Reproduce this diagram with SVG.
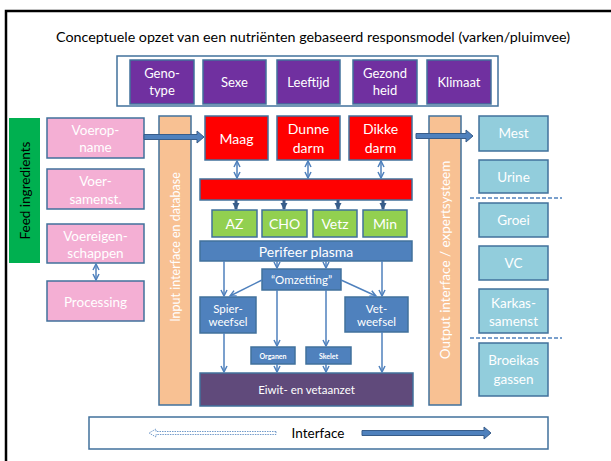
<svg xmlns="http://www.w3.org/2000/svg" width="611" height="461" viewBox="0 0 611 461">
<defs>
<style>
text{font-family:Lato,"Liberation Sans",sans-serif;text-anchor:middle;}
.w{fill:#ffffff;}
.k{fill:#000000;}
.bd{stroke:#41719C;stroke-width:1.5;}
.pink{fill:#F4AFD4;}
.purple{fill:#7030A0;}
.red{fill:#FF0000;}
.green{fill:#92D050;}
.blue{fill:#4F81BD;}
.lblue{fill:#92CDDC;}
.orange{fill:#F8C193;}
.ln{stroke:#4F81BD;stroke-width:1.5;fill:none;}
.thick{stroke:#385D8A;stroke-width:3;fill:none;}
.dash{stroke:#4F81BD;stroke-width:1.3;stroke-dasharray:4 2;fill:none;}
</style>
<marker id="ah" markerWidth="8" markerHeight="8" refX="7" refY="4" orient="auto" markerUnits="userSpaceOnUse">
<path d="M1,1 L7,4 L1,7" fill="none" stroke="#4F81BD" stroke-width="1.5"/>
</marker>
<marker id="as" markerWidth="8" markerHeight="8" refX="7" refY="4" orient="auto-start-reverse" markerUnits="userSpaceOnUse">
<path d="M1,1 L7,4 L1,7" fill="none" stroke="#4F81BD" stroke-width="1.5"/>
</marker>
<marker id="at" markerWidth="8" markerHeight="8" refX="6" refY="4" orient="auto" markerUnits="userSpaceOnUse">
<path d="M0,0.5 L7,4 L0,7.5 Z" fill="#385D8A"/>
</marker>
</defs>
<rect x="0" y="0" width="611" height="461" fill="#ffffff"/>
<path d="M6,461 V11 H611" fill="none" stroke="#000000" stroke-width="2.5"/>
<text x="313" y="42" font-size="13.5" class="k" textLength="514" lengthAdjust="spacingAndGlyphs">Conceptuele opzet van een nutriënten gebaseerd responsmodel (varken/pluimvee)</text>

<g id="factors">
<rect x="117" y="56" width="381" height="50" fill="#ffffff" class="bd"/>
</g>
<g id="genotype"><rect x="130" y="60" width="64" height="44" class="purple bd"/><text x="162" y="78" font-size="13" class="w">Geno-</text><text x="162" y="95" font-size="13" class="w">type</text></g>
<g id="sexe"><rect x="203" y="60" width="63" height="44" class="purple bd"/><text x="234.5" y="86.5" font-size="13" class="w">Sexe</text></g>
<g id="leeftijd"><rect x="277" y="60" width="63" height="44" class="purple bd"/><text x="308.5" y="86.5" font-size="13" class="w">Leeftijd</text></g>
<g id="gezondheid"><rect x="353" y="60" width="64" height="44" class="purple bd"/><text x="385" y="78" font-size="13" class="w">Gezond</text><text x="385" y="95" font-size="13" class="w">heid</text></g>
<g id="klimaat"><rect x="427" y="60" width="64" height="44" class="purple bd"/><text x="459" y="86.5" font-size="13" class="w">Klimaat</text></g>

<g id="feed"><rect x="9" y="118" width="31" height="145" fill="#00B050"/><text transform="translate(29.5,190.5) rotate(-90)" font-size="13.5" class="k">Feed ingredients</text></g>

<g id="voeropname"><rect x="47" y="118" width="97" height="40" class="pink bd"/><text x="95.5" y="134.5" font-size="13.5" class="w">Voerop-</text><text x="95.5" y="151.5" font-size="13.5" class="w">name</text></g>
<g id="voersamenst"><rect x="47" y="169" width="97" height="40" class="pink bd"/><text x="95.5" y="185.5" font-size="13.5" class="w">Voer-</text><text x="95.5" y="203.5" font-size="13.5" class="w">samenst.</text></g>
<g id="voereigenschappen"><rect x="47" y="224" width="97" height="39" class="pink bd"/><text x="95.5" y="240.5" font-size="13.5" class="w">Voereigen-</text><text x="95.5" y="257.5" font-size="13.5" class="w">schappen</text></g>
<g id="processing"><rect x="47" y="281" width="97" height="40" class="pink bd"/><text x="95.5" y="306.5" font-size="13.5" class="w">Processing</text></g>

<g id="input"><rect x="159" y="116" width="32" height="289" class="orange bd"/><text transform="translate(179.5,247) rotate(-90)" font-size="12.5" class="w">Input interface en database</text></g>
<g id="output"><rect x="429" y="116" width="32" height="289" class="orange bd"/><text transform="translate(449.5,260) rotate(-90)" font-size="13.5" class="w">Output interface / expertsysteem</text></g>

<g id="maag"><rect x="205" y="116" width="63" height="44" class="red bd"/><text x="236.5" y="143.5" font-size="14" class="w">Maag</text></g>
<g id="dunnedarm"><rect x="277" y="116" width="63" height="44" class="red bd"/><text x="308.5" y="134" font-size="14" class="w">Dunne</text><text x="308.5" y="152.5" font-size="14" class="w">darm</text></g>
<g id="dikkedarm"><rect x="349" y="116" width="63" height="44" class="red bd"/><text x="380.5" y="134" font-size="14" class="w">Dikke</text><text x="380.5" y="152.5" font-size="14" class="w">darm</text></g>
<g id="redbar"><rect x="200" y="179" width="212" height="21" class="red bd"/></g>

<g id="az"><rect x="212" y="210" width="45" height="27" class="green bd"/><text x="234.5" y="229" font-size="14" class="w">AZ</text></g>
<g id="cho"><rect x="262" y="210" width="45" height="27" class="green bd"/><text x="284.5" y="229" font-size="14" class="w">CHO</text></g>
<g id="vetz"><rect x="313" y="210" width="44" height="27" class="green bd"/><text x="335" y="229" font-size="14" class="w">Vetz</text></g>
<g id="min"><rect x="363" y="210" width="44" height="27" class="green bd"/><text x="385" y="229" font-size="14" class="w">Min</text></g>

<g id="plasma"><rect x="200" y="241" width="212" height="20" class="blue bd"/><text x="306" y="256.5" font-size="14" class="w">Perifeer plasma</text></g>
<g id="omzetting"><rect x="262" y="269" width="79" height="21" class="blue bd"/><text x="301.5" y="284" font-size="11.5" class="w">“Omzetting”</text></g>
<g id="spierweefsel"><rect x="200" y="297" width="56" height="36" class="blue bd"/><text x="228" y="312.5" font-size="11.5" class="w">Spier-</text><text x="228" y="326" font-size="11.5" class="w">weefsel</text></g>
<g id="vetweefsel"><rect x="345" y="297" width="63" height="35" class="blue bd"/><text x="376.5" y="312.5" font-size="11.5" class="w">Vet-</text><text x="376.5" y="326" font-size="11.5" class="w">weefsel</text></g>
<g id="organen"><rect x="251" y="347" width="44" height="17" class="blue bd"/><text x="273" y="359" font-size="7" font-weight="bold" class="w">Organen</text></g>
<g id="skelet"><rect x="306" y="347" width="45" height="17" class="blue bd"/><text x="328.5" y="359" font-size="7" font-weight="bold" class="w">Skelet</text></g>
<g id="eiwit"><rect x="200" y="373" width="213" height="33" fill="#604A7B" class="bd"/><text x="306.5" y="394" font-size="11.5" class="w">Eiwit- en vetaanzet</text></g>

<g id="mest"><rect x="479" y="116" width="69" height="35" class="lblue bd"/><text x="513.5" y="138" font-size="13.5" class="w">Mest</text></g>
<g id="urine"><rect x="479" y="160" width="69" height="33" class="lblue bd"/><text x="513.5" y="181.5" font-size="13.5" class="w">Urine</text></g>
<g id="groei"><rect x="479" y="203" width="69" height="34" class="lblue bd"/><text x="513.5" y="224.5" font-size="13.5" class="w">Groei</text></g>
<g id="vc"><rect x="479" y="246" width="69" height="34" class="lblue bd"/><text x="513.5" y="267.5" font-size="13.5" class="w">VC</text></g>
<g id="karkas"><rect x="479" y="289" width="69" height="44" class="lblue bd"/><text x="513.5" y="307.5" font-size="13.5" class="w">Karkas-</text><text x="513.5" y="325.5" font-size="13.5" class="w">samenst</text></g>
<g id="broeikas"><rect x="479" y="343" width="69" height="53" class="lblue bd"/><text x="513.5" y="364.5" font-size="13.5" class="w">Broeikas</text><text x="513.5" y="383.5" font-size="13.5" class="w">gassen</text></g>

<g id="interface"><rect x="89" y="417" width="459" height="32" fill="#ffffff" class="bd"/><text x="318" y="438" font-size="13.5" class="k">Interface</text></g>

<g id="connectors">
<path d="M144,134.5 H197 V131 L204,137 L197,143 V139.5 H144 Z" fill="#4F81BD" stroke="#385D8A" stroke-width="1"/>
<path d="M416,133.5 H466 V130 L473,136 L466,142 V138.5 H416 Z" fill="#4F81BD" stroke="#385D8A" stroke-width="1"/>
<path d="M362,430.5 H484 V427 L491,433 L484,439 V435.5 H362 Z" fill="#4F81BD" stroke="#385D8A" stroke-width="1"/>
<path d="M276,431.5 H156 V429 L149,433 L156,437 V434.5 H276 Z" fill="#ffffff" stroke="#4F81BD" stroke-width="0.8" stroke-dasharray="1.5 1"/>
<line x1="96" y1="264" x2="96" y2="280" class="ln" marker-start="url(#as)" marker-end="url(#ah)"/>
<line x1="237" y1="161" x2="237" y2="178" class="ln" marker-start="url(#as)" marker-end="url(#ah)"/>
<line x1="308" y1="161" x2="308" y2="178" class="ln" marker-start="url(#as)" marker-end="url(#ah)"/>
<line x1="381" y1="161" x2="381" y2="178" class="ln" marker-start="url(#as)" marker-end="url(#ah)"/>
<line x1="236" y1="200" x2="236" y2="209" class="thick" marker-end="url(#at)"/>
<line x1="284" y1="200" x2="284" y2="209" class="thick" marker-end="url(#at)"/>
<line x1="338" y1="200" x2="338" y2="209" class="thick" marker-end="url(#at)"/>
<line x1="383" y1="200" x2="383" y2="209" class="thick" marker-end="url(#at)"/>
<line x1="224" y1="261" x2="224" y2="296" class="ln" marker-end="url(#ah)"/>
<line x1="277" y1="261" x2="277" y2="268" class="ln" marker-end="url(#ah)"/>
<line x1="326" y1="261" x2="326" y2="268" class="ln" marker-end="url(#ah)"/>
<line x1="382" y1="261" x2="382" y2="296" class="ln" marker-end="url(#ah)"/>
<line x1="262" y1="280" x2="230" y2="296" class="ln" marker-end="url(#ah)"/>
<line x1="341" y1="280" x2="376" y2="296" class="ln" marker-end="url(#ah)"/>
<line x1="277" y1="290" x2="277" y2="346" class="ln" marker-end="url(#ah)"/>
<line x1="326" y1="290" x2="326" y2="346" class="ln" marker-end="url(#ah)"/>
<line x1="224" y1="333" x2="224" y2="372" class="ln" marker-end="url(#ah)"/>
<line x1="277" y1="364" x2="277" y2="372" class="ln" marker-end="url(#ah)"/>
<line x1="326" y1="364" x2="326" y2="372" class="ln" marker-end="url(#ah)"/>
<line x1="382" y1="332" x2="382" y2="372" class="ln" marker-end="url(#ah)"/>
<line x1="470" y1="198" x2="562" y2="198" class="dash"/>
<line x1="470" y1="338" x2="562" y2="338" class="dash"/>
</g>
</svg>
